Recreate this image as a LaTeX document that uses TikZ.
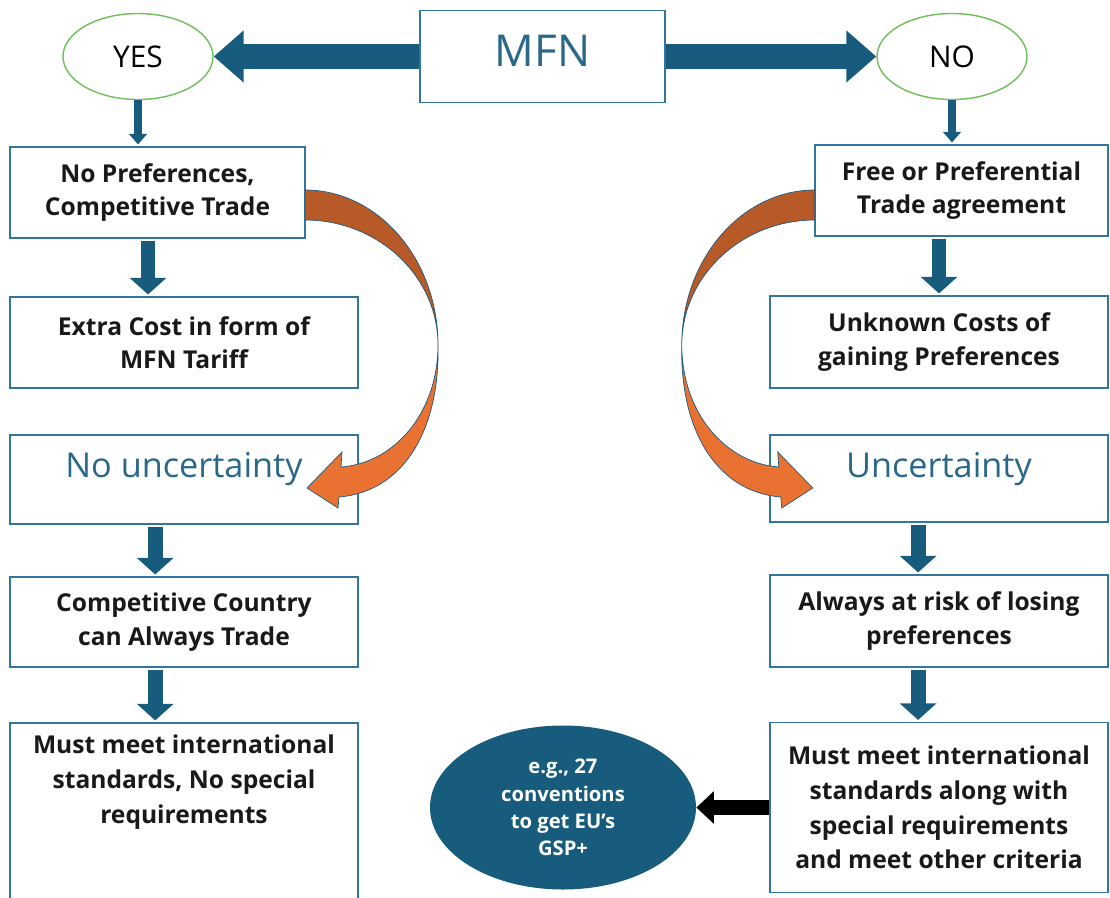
\documentclass[tikz,border=0pt]{standalone}
\usepackage{fontspec}
\setmainfont{Open Sans}
\usepackage{tikz}
\usepackage{xcolor}
\usetikzlibrary{positioning, arrows.meta, shapes}

\definecolor{mfnteal}{RGB}{24,92,125}
\definecolor{headteal}{RGB}{42,104,138}
\definecolor{boxline}{RGB}{52,118,155}
\definecolor{darkorange}{RGB}{184,90,40}
\definecolor{lightorange}{RGB}{233,114,50}
\definecolor{yesgreen}{RGB}{110,190,90}

\newcommand{\pxu}{0.02cm}
\newcommand{\bendarrow}{%
    \filldraw[fill=darkorange, draw=mfnteal, line width=0.4pt] (305,190) .. controls (378,190) and (438,259) .. (438,345)
        .. controls (438,276) and (378,220) .. (305,220) -- cycle;
    \filldraw[fill=lightorange, draw=mfnteal, line width=0.4pt] (438,345) .. controls (438,412) and (395,463) .. (341,467)
        -- (342,452) -- (307,488) -- (338,508) -- (339,497) .. controls (402,492) and (440,432) .. (438,345) -- cycle;
}

\tikzset{
    box/.style={rectangle, draw=boxline, fill=white, line width=0.9pt, inner sep=0pt, align=center,
        text=black!90, font=\bfseries\fontsize{14}{19}\selectfont},
    txt/.style={inner sep=0pt, align=center, text=black!90, font=\bfseries\fontsize{14}{19.8}\selectfont},
    bigtxt/.style={text=headteal, font=\fontsize{19.5}{22}\selectfont},
    oval/.style={ellipse, draw=yesgreen, line width=0.8pt, inner sep=0pt, minimum width=150*\pxu, minimum height=86*\pxu,
        font=\fontsize{17}{19}\selectfont},
    bigarrow/.style={color=mfnteal, line width=14pt, -{Triangle[width=28.5pt,length=17pt]}},
    downarrow/.style={color=mfnteal, line width=8.5pt, shorten <=1pt, shorten >=1pt, -{Triangle[width=20.5pt,length=9.5pt]}},
    thinarrow/.style={color=mfnteal, line width=4pt, shorten >=1pt, -{Triangle[width=10pt,length=6pt]}},
    blackarrow/.style={color=black, line width=9pt, -{Triangle[width=18pt,length=10pt]}}
}

\begin{document}
\begin{tikzpicture}[x=\pxu, y=-\pxu]
    \useasboundingbox (0,0) rectangle (1110,897);

    \node[box, minimum width=245*\pxu, minimum height=92*\pxu] (mfn) at (542.5,56.5) {};
    \node[text=headteal, font=\fontsize{25}{28}\selectfont, above=-36pt of mfn.north] (mfntext) {MFN};
    \node[oval] (yes) at (138,56.5) {YES};
    \node[oval] (no) at (952,56.5) {NO};

    \node[box, minimum width=295*\pxu, minimum height=91*\pxu] (l1) at (157.5,192.5) {No Preferences,\\Competitive Trade};
    \node[box, minimum width=348*\pxu, minimum height=91*\pxu] (l2) at (184,342.5) {Extra Cost in form of\\MFN Tariff};
    \node[box, minimum width=348*\pxu, minimum height=89*\pxu] (l3) at (184,479.5) {};
    \node[bigtxt, below=7pt of l3.north] (l3text) {No uncertainty};
    \node[box, minimum width=348*\pxu, minimum height=90*\pxu] (l4) at (184,622) {Competitive Country\\can Always Trade};
    \node[box, minimum width=348*\pxu, minimum height=180*\pxu] (l5) at (184,813) {};
    \node[txt, below=7pt of l5.north] (l5text) {Must meet international\\standards, No special\\requirements};

    \node[box, minimum width=293*\pxu, minimum height=91*\pxu] (r1) at (961.5,190.5) {Free or Preferential\\Trade agreement};
    \node[box, minimum width=338*\pxu, minimum height=92*\pxu] (r2) at (939,342) {Unknown Costs of\\gaining Preferences};
    \node[box, minimum width=338*\pxu, minimum height=87*\pxu] (r3) at (939,478.5) {};
    \node[bigtxt, below=7pt of r3.north] (r3text) {Uncertainty};
    \node[box, minimum width=338*\pxu, minimum height=92*\pxu] (r4) at (939,621) {Always at risk of losing\\preferences};
    \node[box, minimum width=338*\pxu, minimum height=170*\pxu, font=\bfseries\fontsize{14}{19.8}\selectfont] (r5) at (939,807.5) {Must meet international\\standards along with\\special requirements\\and meet other criteria};

    \node[ellipse, fill=mfnteal, inner sep=0pt, minimum width=266*\pxu, minimum height=164*\pxu, align=center,
        text=white, font=\bfseries\fontsize{11.5}{15.6}\selectfont] (gsp) at (563,807.5) {e.g., 27\\conventions\\to get EU’s\\GSP+};

    \draw[bigarrow] (mfn.west) -- (yes.east);
    \draw[bigarrow] (mfn.east) -- (no.west);
    \draw[thinarrow] (yes.south) -- (yes.south |- l1.north);
    \draw[thinarrow] (no.south) -- (no.south |- r1.north);

    \coordinate (a1) at ([xshift=-5.4pt]l1.south);
    \coordinate (a3) at ([xshift=-16.4pt]l3.south);
    \coordinate (a4) at ([xshift=-16.4pt]l4.south);
    \coordinate (b3) at ([xshift=-11.9pt]r3.south);
    \coordinate (b4) at ([xshift=-11.9pt]r4.south);
    \draw[downarrow] (a1) -- (a1 |- l2.north);
    \draw[downarrow] (a3) -- (a3 |- l4.north);
    \draw[downarrow] (a4) -- (a4 |- l5.north);
    \draw[downarrow] (r1.south -| r2.north) -- (r2.north);
    \draw[downarrow] (b3) -- (b3 |- r4.north);
    \draw[downarrow] (b4) -- (b4 |- r5.north);
    \draw[blackarrow] (r5.west) -- (gsp.east);

    \bendarrow
    \begin{scope}[xshift=22.4cm, xscale=-1]
        \bendarrow
    \end{scope}
\end{tikzpicture}
\end{document}
